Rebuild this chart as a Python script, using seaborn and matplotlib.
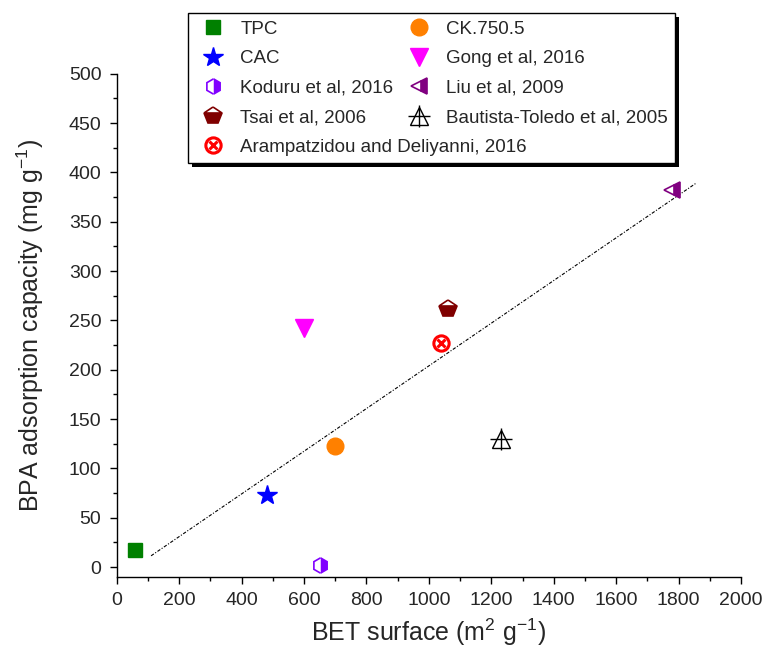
import matplotlib
matplotlib.use("Agg")
import matplotlib.pyplot as plt
import seaborn as sns
from matplotlib.ticker import MultipleLocator
from matplotlib.legend_handler import HandlerTuple
from matplotlib.patches import Rectangle

# ---- data ----
labels = ["TPC", "CK.750.5", "CAC", "Gong et al, 2016", "Koduru et al, 2016",
          "Liu et al, 2009", "Tsai et al, 2006", "Bautista-Toledo et al, 2005",
          "Arampatzidou and Deliyanni, 2016"]
bet_surface = [60, 700, 480, 600, 650, 1780, 1060, 1230, 1040]
bpa_capacity = [17, 123, 73, 242, 2, 382, 262, 130, 227]
fit_x = [110, 1855]
fit_y = [11.5, 389]

sns.set_style("ticks")
plt.rcParams['font.family'] = ['Liberation Sans', 'DejaVu Sans']
plt.rcParams['mathtext.fontset'] = 'custom'
plt.rcParams['mathtext.rm'] = 'Liberation Sans'
plt.rcParams['mathtext.it'] = 'Liberation Sans:italic'
plt.rcParams['mathtext.default'] = 'regular'

fig = plt.figure(figsize=(7.68, 6.59), dpi=100)
ax = fig.add_axes([0.152, 0.1244, 0.813, 0.7636])

sns.lineplot(x=fit_x, y=fit_y, ax=ax, color='black', lw=0.8,
             linestyle=(0, (3, 1.5, 1, 1.5)), zorder=1)

d = dict(zip(labels, zip(bet_surface, bpa_capacity)))
H = {}

def pt(name, **kw):
    x, y = d[name]
    h, = ax.plot([x], [y], linestyle='none', **kw)
    return h

H["TPC"] = pt("TPC", marker='s', ms=10, color='#008000', mec='#008000')
H["CK.750.5"] = pt("CK.750.5", marker='o', ms=12, color='#FF8000', mec='#FF8000')
H["CAC"] = pt("CAC", marker='*', ms=15, color='#0000FF', mec='#0000FF')
H["Gong et al, 2016"] = pt("Gong et al, 2016", marker='v', ms=13, color='#FF00FF', mec='#FF00FF')
H["Koduru et al, 2016"] = pt("Koduru et al, 2016", marker='h', ms=11, color='#8000FF',
                            mec='#8000FF', fillstyle='right', markerfacecoloralt='white', mew=1.2)
H["Liu et al, 2009"] = pt("Liu et al, 2009", marker='<', ms=12, color='#800080',
                         mec='#800080', fillstyle='right', markerfacecoloralt='white', mew=1.2)
H["Tsai et al, 2006"] = pt("Tsai et al, 2006", marker='p', ms=13, color='#800000',
                          mec='#800000', fillstyle='bottom', markerfacecoloralt='white', mew=1.2)
b1 = pt("Bautista-Toledo et al, 2005", marker='^', ms=13, mfc='none', mec='black', mew=1.0)
b2 = pt("Bautista-Toledo et al, 2005", marker='+', ms=16, mec='black', mew=1.0)
H["Bautista-Toledo et al, 2005"] = (b1, b2)
a1 = pt("Arampatzidou and Deliyanni, 2016", marker='o', ms=11, mfc='white', mec='#FF0000', mew=2.2)
a2 = pt("Arampatzidou and Deliyanni, 2016", marker='x', ms=6, mec='#FF0000', mew=2.2)
H["Arampatzidou and Deliyanni, 2016"] = (a1, a2)

ax.set_xlim(0, 2000)
ax.set_ylim(-10, 500)
ax.xaxis.set_major_locator(MultipleLocator(200))
ax.xaxis.set_minor_locator(MultipleLocator(100))
ax.yaxis.set_major_locator(MultipleLocator(50))
ax.yaxis.set_minor_locator(MultipleLocator(25))
ax.tick_params(which='both', direction='out', color='black', width=1.0)
ax.tick_params(which='major', length=5, labelsize=14)
ax.tick_params(axis='x', which='major', pad=6)
ax.tick_params(axis='y', which='major', pad=6)
ax.tick_params(which='minor', length=3)
for s in ['left', 'bottom']:
    ax.spines[s].set_color('black')
    ax.spines[s].set_linewidth(1.0)
sns.despine(ax=ax)

ax.set_xlabel('BET surface (m$^{2}$ g$^{-1}$)', fontsize=18, labelpad=5)
ax.set_ylabel('BPA adsorption capacity (mg g$^{-1}$)', fontsize=18, labelpad=16)

order = ["TPC", "CAC", "Koduru et al, 2016", "Tsai et al, 2006",
         "Arampatzidou and Deliyanni, 2016",
         "CK.750.5", "Gong et al, 2016", "Liu et al, 2009", "Bautista-Toledo et al, 2005"]
leg = ax.legend([H[k] for k in order], order, ncol=2, loc='upper left',
                bbox_to_anchor=(0.245, 0.98), bbox_transform=fig.transFigure,
                frameon=True, fancybox=False, shadow=False,
                edgecolor='black', framealpha=1, fontsize=13.5,
                handler_map={tuple: HandlerTuple(ndivide=1)},
                labelspacing=0.66, columnspacing=-6.69, handlelength=1.87,
                handletextpad=0.51, borderpad=0.4, borderaxespad=0)
leg.get_frame().set_linewidth(1.0)

fig.canvas.draw()
bb = leg.get_window_extent()
off = 4
ax.add_patch(Rectangle((bb.x0 + off, bb.y0 - off), bb.width, bb.height,
                       transform=None, facecolor='black', edgecolor='none',
                       clip_on=False, zorder=4.9))

fig.savefig('out.png', dpi=100)
